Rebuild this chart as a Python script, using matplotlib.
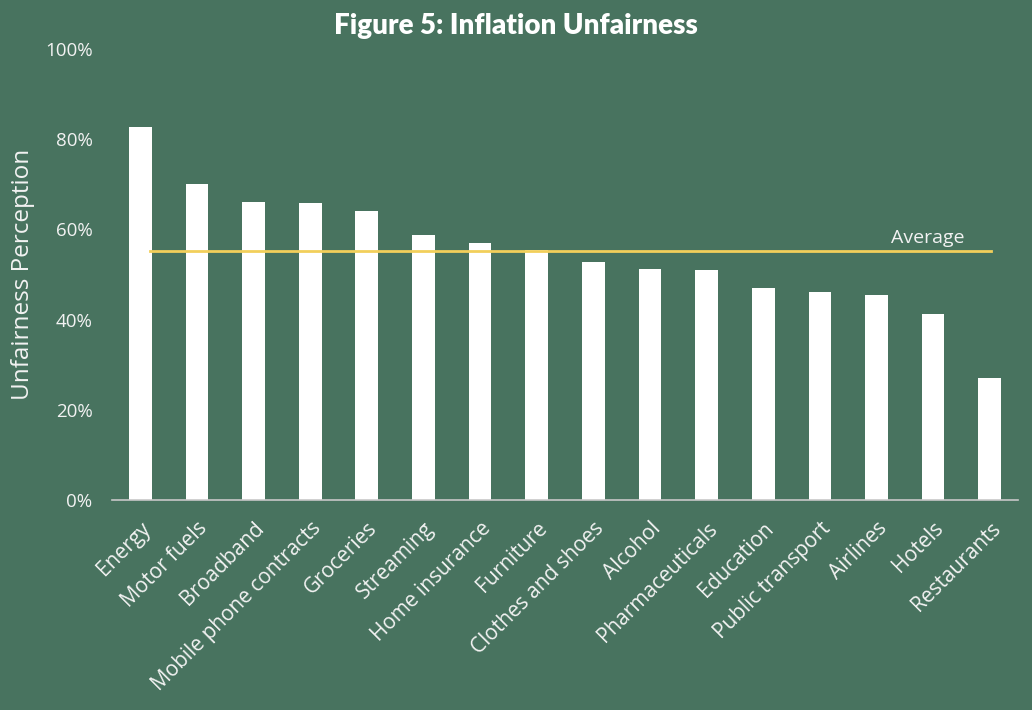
import matplotlib.pyplot as plt
from matplotlib.ticker import PercentFormatter

categories = ["Energy", "Motor fuels", "Broadband", "Mobile phone contracts",
              "Groceries", "Streaming", "Home insurance", "Furniture",
              "Clothes and shoes", "Alcohol", "Pharmaceuticals", "Education",
              "Public transport", "Airlines", "Hotels", "Restaurants"]
unfairness = [82.7, 70.1, 66.1, 65.9, 64.1, 58.8, 57.0, 55.4,
              52.8, 51.2, 51.0, 47.0, 46.1, 45.5, 41.2, 27.1]
average = 55.2
y_ticks = [0, 20, 40, 60, 80, 100]

bg = "#48735f"
text_col = "#f2f2f2"

fig = plt.figure(figsize=(10.32, 7.10), dpi=100, facecolor=bg)
ax = fig.add_axes([0.1085, 0.2958, 0.878, 0.6352])
ax.set_facecolor(bg)

x = range(len(categories))
ax.bar(x, unfairness, width=0.4, color="white", zorder=2)
ax.plot([0.17, 15.02], [average, average], color="#f2cf5b", lw=2, zorder=3)
ax.text(13.9, average + 0.9, "Average", color=text_col, fontsize=14,
        family="Open Sans", ha="center", va="bottom")

ax.set_xlim(-0.5, 15.5)
ax.set_ylim(0, 100)
ax.set_yticks(y_ticks)
ax.yaxis.set_major_formatter(PercentFormatter(decimals=0))
ax.set_xticks(list(x))
ax.set_xticklabels(categories, rotation=45, ha="right", rotation_mode="anchor")

for s in ["top", "right", "left"]:
    ax.spines[s].set_visible(False)
ax.spines["bottom"].set_color("#c8c8c8")
ax.spines["bottom"].set_linewidth(1.2)
ax.tick_params(axis="both", length=0, colors=text_col)
ax.tick_params(axis="y", pad=14, labelsize=13.5)
ax.tick_params(axis="x", pad=13, labelsize=15)
for lbl in ax.get_xticklabels() + ax.get_yticklabels():
    lbl.set_family("Open Sans")

ax.set_ylabel("Unfairness Perception", color=text_col, fontsize=17.5,
              family="Open Sans")
ax.yaxis.set_label_coords(-0.085, 0.5)
fig.text(0.5, 0.963, "Figure 5: Inflation Unfairness", color="white",
         fontsize=20, fontweight="heavy", family="Lato", ha="center", va="center")

fig.savefig("out.png", facecolor=bg)
